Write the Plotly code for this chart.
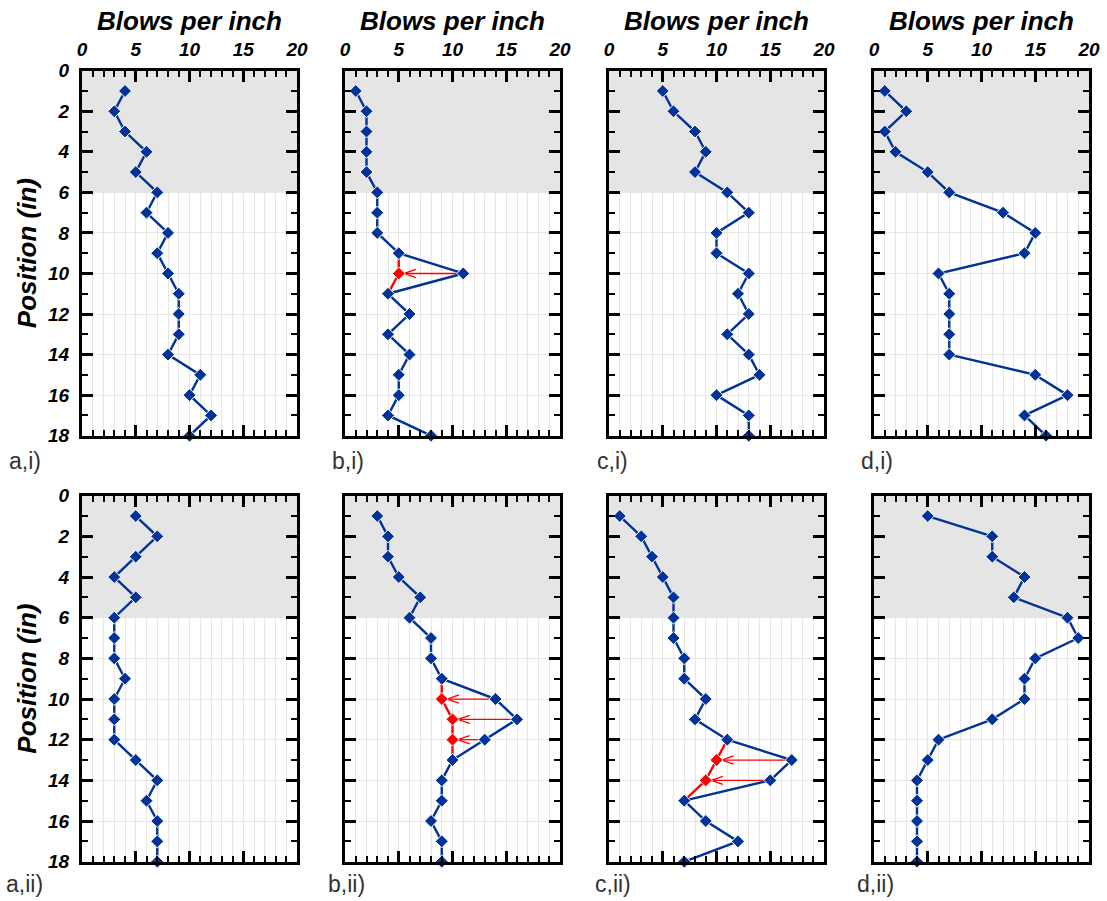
import plotly.graph_objects as go

# ---------------- data ----------------
positions = list(range(1, 19))  # inches

a_i = [4, 3, 4, 6, 5, 7, 6, 8, 7, 8, 9, 9, 9, 8, 11, 10, 12, 10]
b_i = [1, 2, 2, 2, 2, 3, 3, 3, 5, 11, 4, 6, 4, 6, 5, 5, 4, 8]
c_i = [5, 6, 8, 9, 8, 11, 13, 10, 10, 13, 12, 13, 11, 13, 14, 10, 13, 13]
d_i = [1, 3, 1, 2, 5, 7, 12, 15, 14, 6, 7, 7, 7, 7, 15, 18, 14, 16]
a_ii = [5, 7, 5, 3, 5, 3, 3, 3, 4, 3, 3, 3, 5, 7, 6, 7, 7, 7]
b_ii = [3, 4, 4, 5, 7, 6, 8, 8, 9, 14, 16, 13, 10, 9, 9, 8, 9, 9]
c_ii = [1, 3, 4, 5, 6, 6, 6, 7, 7, 9, 8, 11, 17, 15, 7, 9, 12, 7]
d_ii = [5, 11, 11, 14, 13, 18, 19, 15, 14, 14, 11, 6, 5, 4, 4, 4, 4, 4]

# corrected (red) values: position -> corrected blows
b_i_corr_pos = [10]
b_i_corr = [5]
b_ii_corr_pos = [10, 11, 12]
b_ii_corr = [9, 10, 10]
c_ii_corr_pos = [13, 14]
c_ii_corr = [10, 9]

panel_labels = ["a,i)", "b,i)", "c,i)", "d,i)", "a,ii)", "b,ii)", "c,ii)", "d,ii)"]
x_tick_vals = [0, 5, 10, 15, 20]
y_tick_vals = [0, 2, 4, 6, 8, 10, 12, 14, 16, 18]
x_range = [0, 20]
y_range = [18, 0]
shade_depth = 6
x_title = "Blows per inch"
y_title = "Position (in)"

panels = [
    (a_i, [], []), (b_i, b_i_corr_pos, b_i_corr), (c_i, [], []), (d_i, [], []),
    (a_ii, [], []), (b_ii, b_ii_corr_pos, b_ii_corr), (c_ii, c_ii_corr_pos, c_ii_corr), (d_ii, [], []),
]

# ---------------- layout geometry (pixels) ----------------
W, H = 1107, 901
col_px = [(82, 297), (345, 560), (609, 824), (874, 1089)]
row_px = [(70.7, 435.7), (495.7, 861.7)]

BLUE = "#003399"
RED = "#ff0000"
FONT = "Liberation Sans, Arial, sans-serif"

fig = go.Figure()
layout = dict(
    width=W, height=H, margin=dict(l=0, r=0, t=0, b=0, autoexpand=False),
    paper_bgcolor="white", plot_bgcolor="white", showlegend=False,
    shapes=[], annotations=[],
)

tick_font = dict(family=FONT, size=19, color="black", weight="bold", style="italic")

for i, (vals, cpos, cvals) in enumerate(panels):
    r, c = divmod(i, 4)
    n = i + 1
    xa = "x" if n == 1 else f"x{n}"
    ya = "y" if n == 1 else f"y{n}"
    xkey = "xaxis" if n == 1 else f"xaxis{n}"
    ykey = "yaxis" if n == 1 else f"yaxis{n}"
    x0, x1 = col_px[c]
    y0, y1 = row_px[r]
    layout[xkey] = dict(
        domain=[x0 / W, x1 / W], anchor=ya, side="top", range=x_range,
        tickvals=x_tick_vals, showticklabels=(r == 0), tickfont=tick_font,
        ticks="inside", ticklen=11, tickwidth=2.5, tickcolor="black",
        showline=True, linewidth=3, linecolor="black", mirror="ticks",
        showgrid=True, gridcolor="#e6e6e6", gridwidth=1, zeroline=False,
        ticklabelstandoff=4, automargin=False,
        minor=dict(dtick=1, ticks="inside", ticklen=6, tickwidth=2, tickcolor="black",
                   showgrid=True, gridcolor="#e6e6e6", gridwidth=1),
        fixedrange=True,
    )
    layout[ykey] = dict(
        domain=[1 - y1 / H, 1 - y0 / H], anchor=xa, range=y_range,
        tickvals=y_tick_vals, showticklabels=(c == 0), tickfont=tick_font,
        ticks="inside", ticklen=11, tickwidth=2.5, tickcolor="black",
        showline=True, linewidth=3, linecolor="black", mirror="ticks",
        showgrid=True, gridcolor="#e6e6e6", gridwidth=1, zeroline=False,
        ticklabelstandoff=6, automargin=False,
        minor=dict(dtick=1, ticks="inside", ticklen=6, tickwidth=2, tickcolor="black",
                   showgrid=False),
        fixedrange=True,
    )
    # shaded top region
    layout["shapes"].append(dict(
        type="rect", xref=xa, yref=ya, x0=x_range[0], x1=x_range[1], y0=0, y1=shade_depth,
        fillcolor="#e5e5e5", line=dict(width=0), layer="between",
    ))

    # corrected path (red) and arrows
    if cpos:
        corr_map = dict(zip(cpos, cvals))
        p_start, p_end = min(cpos) - 1, max(cpos) + 1
        path_y = [p for p in positions if p_start <= p <= p_end]
        path_x = [corr_map.get(p, vals[p - 1]) for p in path_y]
        fig.add_trace(go.Scatter(x=path_x, y=path_y, mode="lines", xaxis=xa, yaxis=ya,
                                 line=dict(color=RED, width=2.4), hoverinfo="skip"))
        for p, cv in zip(cpos, cvals):
            ov = vals[p - 1]
            tip = cv + 0.5
            fig.add_trace(go.Scatter(x=[ov, tip], y=[p, p], mode="lines", xaxis=xa, yaxis=ya,
                                     line=dict(color=RED, width=1.3), hoverinfo="skip"))
            fig.add_trace(go.Scatter(x=[tip + 1.1, tip, tip + 1.1], y=[p - 0.2, p, p + 0.2],
                                     mode="lines", xaxis=xa, yaxis=ya,
                                     line=dict(color=RED, width=1.3), hoverinfo="skip"))

    fig.add_trace(go.Scatter(
        x=vals, y=positions, mode="lines+markers", xaxis=xa, yaxis=ya, cliponaxis=False,
        line=dict(color=BLUE, width=2.4),
        marker=dict(symbol="diamond", size=10, color=BLUE, line=dict(color="white", width=1)),
    ))
    if cpos:
        fig.add_trace(go.Scatter(
            x=cvals, y=cpos, mode="markers", xaxis=xa, yaxis=ya,
            marker=dict(symbol="diamond", size=10, color=RED, line=dict(color="white", width=1)),
        ))

    # panel label
    lx = [7, 330, 595, 859][c] if r == 0 else [4, 326, 593, 855][c]
    ly = 461 if r == 0 else 884
    layout["annotations"].append(dict(
        text=panel_labels[i], xref="paper", yref="paper", x=lx / W, y=1 - ly / H,
        xanchor="left", yanchor="middle", showarrow=False,
        font=dict(family=FONT, size=23, color="#333333"),
    ))
    if r == 0:
        layout["annotations"].append(dict(
            text=x_title, xref="paper", yref="paper", x=(x0 + x1) / 2 / W, y=1 - 21 / H,
            xanchor="center", yanchor="middle", showarrow=False,
            font=dict(family=FONT, size=26, color="black", weight="bold", style="italic"),
        ))
    if c == 0:
        layout["annotations"].append(dict(
            text=y_title, xref="paper", yref="paper", x=27 / W, y=1 - (y0 + y1) / 2 / H,
            xanchor="center", yanchor="middle", showarrow=False, textangle=-90,
            font=dict(family=FONT, size=26, color="black", weight="bold", style="italic"),
        ))

fig.update_layout(**layout)
fig.write_html("out.html")
